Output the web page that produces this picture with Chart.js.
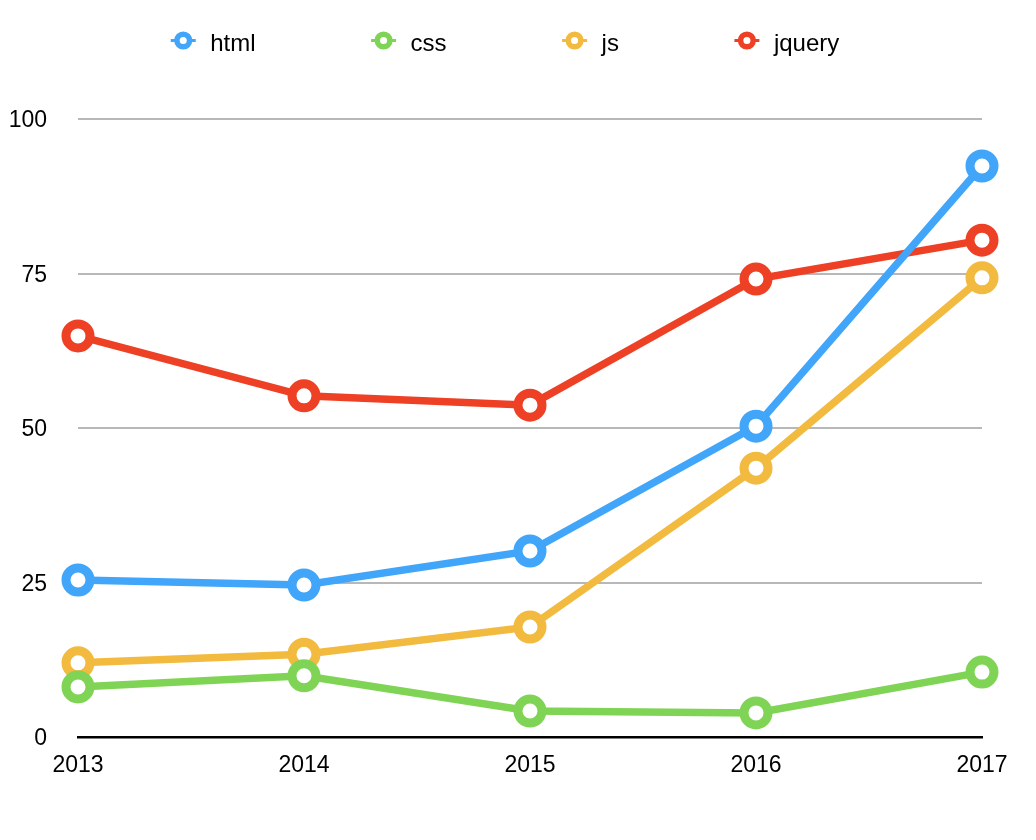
<!DOCTYPE html>
<html>
<head>
<meta charset="utf-8">
<style>
  html, body { margin: 0; padding: 0; background: #fff; }
  #wrap { width: 1036px; height: 840px; }
</style>
<script src="https://cdn.jsdelivr.net/npm/chart.js@4.4.1/dist/chart.umd.min.js"></script>
</head>
<body>
<div id="wrap"><canvas id="c" width="1036" height="840"></canvas></div>
<script>
const years = ['2013', '2014', '2015', '2016', '2017'];
const html = [25.4, 24.6, 30.1, 50.3, 92.4];
const css = [8.1, 9.9, 4.2, 3.9, 10.5];
const js = [12.0, 13.4, 17.8, 43.5, 74.3];
const jquery = [64.9, 55.2, 53.7, 74.1, 80.4];
const yTicks = [0, 25, 50, 75, 100];

const seriesNames = ['html', 'css', 'js', 'jquery'];
const seriesData = [html, css, js, jquery];
const seriesColors = ['#41a5f9', '#80d455', '#f2ba3f', '#ee4024'];

const FONT = '"Liberation Sans", Arial, Helvetica, sans-serif';

const legendPlugin = {
  id: 'customLegend',
  afterDraw(chart) {
    const ctx = chart.ctx;
    ctx.save();
    ctx.font = '24px ' + FONT;
    const iconToText = 27;
    const gap = 128;
    const items = chart.data.datasets.map(ds => ({
      label: ds.label, color: ds.borderColor, w: ctx.measureText(ds.label).width
    }));
    let total = 12.5;
    items.forEach((it, i) => {
      total += iconToText + it.w;
      if (i < items.length - 1) total += gap;
    });
    let x = 505 - total / 2 + 12.5; // first icon center
    const iy = 40.5, ty = 51;
    items.forEach(it => {
      ctx.strokeStyle = it.color;
      ctx.lineWidth = 3;
      ctx.beginPath();
      ctx.moveTo(x - 12.5, iy);
      ctx.lineTo(x + 12.5, iy);
      ctx.stroke();
      ctx.beginPath();
      ctx.arc(x, iy, 6.3, 0, Math.PI * 2);
      ctx.fillStyle = '#fff';
      ctx.fill();
      ctx.lineWidth = 5.5;
      ctx.stroke();
      ctx.fillStyle = '#000';
      ctx.textBaseline = 'alphabetic';
      ctx.textAlign = 'left';
      ctx.fillText(it.label, x + iconToText, ty);
      x += iconToText + it.w + gap;
    });
    ctx.restore();
  }
};

new Chart(document.getElementById('c'), {
  type: 'line',
  data: {
    labels: years,
    datasets: seriesNames.map((name, i) => ({
      label: name,
      data: seriesData[i],
      borderColor: seriesColors[i],
      backgroundColor: seriesColors[i],
      borderWidth: 7.5,
      pointRadius: 12,
      pointHoverRadius: 12,
      pointBorderWidth: 9,
      pointBackgroundColor: '#fff',
      pointBorderColor: seriesColors[i],
      tension: 0,
      clip: false
    }))
  },
  options: {
    responsive: false,
    animation: false,
    devicePixelRatio: 1,
    layout: { padding: { top: 119, right: 54, left: 0, bottom: 0 } },
    plugins: {
      legend: { display: false },
      tooltip: { enabled: false }
    },
    scales: {
      x: {
        grid: { display: true, drawOnChartArea: false, drawTicks: false },
        border: { display: true, color: '#000', width: 2.5 },
        ticks: { color: '#000', font: { size: 23, family: FONT }, padding: 15, maxRotation: 0 },
        afterFit(scale) { scale.height = 103; }
      },
      y: {
        min: 0,
        max: 100,
        afterBuildTicks(scale) { scale.ticks = yTicks.map(v => ({ value: v })); },
        grid: { color: '#b8b8b8', lineWidth: 2, drawTicks: false },
        border: { display: false },
        ticks: { color: '#000', font: { size: 23, family: FONT }, padding: 31, labelOffset: 2 },
        afterFit(scale) { scale.width = 78; }
      }
    }
  },
  plugins: [legendPlugin]
});
</script>
</body>
</html>
